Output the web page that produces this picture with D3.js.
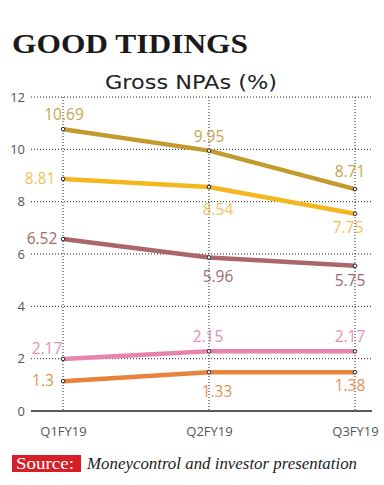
<!DOCTYPE html>
<html>
<head>
<meta charset="utf-8">
<script src="https://cdn.jsdelivr.net/npm/d3@7"></script>
<style>
  body { margin: 0; background: #fff; }
  svg { display: block; }
</style>
</head>
<body>
<div id="chart"></div>
<script>
// Data
var quarters = ["Q1FY19", "Q2FY19", "Q3FY19"];
var yTicks = [0, 2, 4, 6, 8, 10, 12];

// plotted positions
var seriesGold   = [10.77, 9.95, 8.48];
var seriesYellow = [8.87, 8.56, 7.54];
var seriesMaroon = [6.57, 5.87, 5.55];
var seriesPink   = [1.99, 2.28, 2.28];
var seriesOrange = [1.14, 1.48, 1.48];

// printed value labels
var labelsGold   = ["10.69", "9.95", "8.71"];
var labelsYellow = ["8.81", "8.54", "7.75"];
var labelsMaroon = ["6.52", "5.96", "5.75"];
var labelsPink   = ["2.17", "2.15", "2.17"];
var labelsOrange = ["1.3", "1.33", "1.38"];

// Layout
var width = 384, height = 485;
var margin = {top: 97, right: 12, bottom: 74, left: 31};
var innerW = width - margin.left - margin.right,
    innerH = height - margin.top - margin.bottom;

var series = [
  {vals: seriesGold,   labels: labelsGold,   line: "#c29a2e", text: "#c9a44c",
   off: [[1, -9], [0, -9], [-5, -12]]},
  {vals: seriesYellow, labels: labelsYellow, line: "#f4b71e", text: "#efc35a",
   off: [[-23, 5], [9, 28], [-7, 19]]},
  {vals: seriesMaroon, labels: labelsMaroon, line: "#a9676a", text: "#9e6b6c",
   off: [[-21, 5], [9, 25], [-5, 20]]},
  {vals: seriesPink,   labels: labelsPink,   line: "#e884ac", text: "#e58fb2",
   off: [[-16, -5], [-1, -9], [-5, -9]]},
  {vals: seriesOrange, labels: labelsOrange, line: "#e9823c", text: "#e8914f",
   off: [[-20, 5], [8, 25], [-5, 19]]}
];

var x = d3.scalePoint().domain(quarters).range([32, 324]);
var y = d3.scaleLinear().domain([0, 12]).range([innerH, 0]);

var svg = d3.select("#chart").append("svg")
    .attr("width", width)
    .attr("height", height);

// Title
svg.append("text")
    .attr("x", 12).attr("y", 52.5)
    .attr("textLength", 236).attr("lengthAdjust", "spacingAndGlyphs")
    .style("font-family", "'Liberation Serif', serif")
    .style("font-weight", "bold")
    .style("font-size", "27px")
    .style("fill", "#1a1a1a")
    .text("GOOD TIDINGS");

svg.append("text")
    .attr("x", 191).attr("y", 89)
    .attr("textLength", 172).attr("lengthAdjust", "spacingAndGlyphs")
    .style("text-anchor", "middle")
    .style("font-family", "'DejaVu Sans', sans-serif")
    .style("font-size", "19px")
    .style("fill", "#222")
    .text("Gross NPAs (%)");

var g = svg.append("g")
    .attr("transform", "translate(" + margin.left + "," + margin.top + ")");

// horizontal dotted grid
g.selectAll(".grid")
    .data(yTicks.filter(function(d) { return d > 0; }))
  .enter().append("line")
    .attr("x1", 0).attr("x2", innerW)
    .attr("y1", function(d) { return y(d); })
    .attr("y2", function(d) { return y(d); })
    .style("stroke", "#222")
    .style("stroke-width", 1)
    .style("stroke-dasharray", "1,2");

// vertical dotted lines
g.selectAll(".vgrid")
    .data(quarters)
  .enter().append("line")
    .attr("x1", function(d) { return x(d); })
    .attr("x2", function(d) { return x(d); })
    .attr("y1", 0).attr("y2", innerH)
    .style("stroke", "#222")
    .style("stroke-width", 1)
    .style("stroke-dasharray", "1,2");

// baseline
g.append("line")
    .attr("x1", 0).attr("x2", innerW)
    .attr("y1", y(0)).attr("y2", y(0))
    .style("stroke", "#222")
    .style("stroke-width", 1.5);

// Y axis labels
var yAxis = g.append("g")
    .call(d3.axisLeft(y).tickValues(yTicks).tickSize(0).tickPadding(6));
yAxis.select(".domain").remove();
yAxis.selectAll("text")
    .style("font-family", "'Open Sans', sans-serif")
    .style("font-size", "13px")
    .style("fill", "#555");

// X axis labels
var xAxis = g.append("g")
    .attr("transform", "translate(0," + innerH + ")")
    .call(d3.axisBottom(x).tickSize(0).tickPadding(16));
xAxis.select(".domain").remove();
xAxis.selectAll("text")
    .style("font-family", "'Open Sans', sans-serif")
    .style("font-size", "13px")
    .style("fill", "#555");

var line = d3.line()
    .x(function(d, i) { return x(quarters[i]); })
    .y(function(d) { return y(d); });

series.forEach(function(s) {
  g.append("path")
      .datum(s.vals)
      .attr("d", line)
      .style("fill", "none")
      .style("stroke", s.line)
      .style("stroke-width", 4.5)
      .style("stroke-linejoin", "round");

  g.selectAll(null)
      .data(s.vals)
    .enter().append("circle")
      .attr("cx", function(d, i) { return x(quarters[i]); })
      .attr("cy", function(d) { return y(d); })
      .attr("r", 1.8)
      .style("fill", "#fff")
      .style("stroke", "#222")
      .style("stroke-width", 1);

  g.selectAll(null)
      .data(s.labels)
    .enter().append("text")
      .attr("x", function(d, i) { return x(quarters[i]) + s.off[i][0]; })
      .attr("y", function(d, i) { return y(s.vals[i]) + s.off[i][1]; })
      .style("text-anchor", "middle")
      .style("font-family", "'Open Sans', sans-serif")
      .style("font-size", "15.5px")
      .style("fill", s.text)
      .text(function(d) { return d; });
});

// Source line
svg.append("rect")
    .attr("x", 12).attr("y", 455)
    .attr("width", 69).attr("height", 17)
    .style("fill", "#d71f2a");

svg.append("text")
    .attr("x", 16).attr("y", 469)
    .attr("textLength", 58).attr("lengthAdjust", "spacingAndGlyphs")
    .style("font-family", "'Liberation Serif', serif")
    .style("font-size", "17px")
    .style("fill", "#fff")
    .text("Source:");

svg.append("text")
    .attr("x", 87).attr("y", 469)
    .attr("textLength", 270).attr("lengthAdjust", "spacingAndGlyphs")
    .style("font-family", "'Liberation Serif', serif")
    .style("font-style", "italic")
    .style("font-size", "16.5px")
    .style("fill", "#222")
    .text("Moneycontrol and investor presentation");
</script>
</body>
</html>
